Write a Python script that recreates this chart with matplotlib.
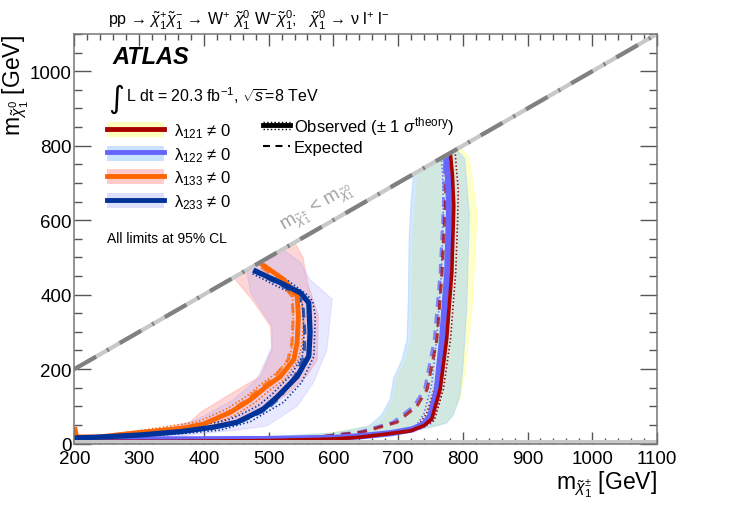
import numpy as np
import matplotlib
matplotlib.use("Agg")
import matplotlib.pyplot as plt
from matplotlib.lines import Line2D
from matplotlib.patches import Patch
from matplotlib.legend_handler import HandlerBase
from matplotlib.ticker import MultipleLocator

plt.rcParams['font.family'] = ['Liberation Sans', 'DejaVu Sans']
plt.rcParams['mathtext.fontset'] = 'custom'
plt.rcParams['mathtext.rm'] = 'Liberation Sans'
plt.rcParams['mathtext.it'] = 'Liberation Sans:italic'
plt.rcParams['mathtext.bf'] = 'Liberation Sans:bold'
plt.rcParams['lines.scale_dashes'] = False


""" DATA (read off the picture) """
# lambda_121 : observed, +-1 sigma theory, expected, expected band
l121_obs_x = [200, 350, 500, 600, 641, 680, 719, 740, 752, 765, 775, 783, 786, 784, 781]
l121_obs_y = [6, 6, 8, 12, 17, 25, 34, 48, 66, 146, 280, 460, 638, 720, 775]
l121_up_x = [200, 350, 500, 600, 660, 705, 738, 756, 770, 781, 789, 792, 793, 790, 788]
l121_up_y = [8, 9, 11, 15, 22, 30, 44, 62, 146, 280, 460, 600, 680, 740, 786]
l121_dn_x = [200, 350, 500, 600, 630, 670, 705, 730, 744, 758, 768, 776, 779, 778, 776]
l121_dn_y = [5, 5, 7, 10, 14, 20, 30, 46, 80, 160, 290, 460, 638, 720, 772]
l121_exp_x = [200, 400, 575, 646, 698, 729, 745, 760, 768, 773, 775]
l121_exp_y = [7, 9, 17, 31, 57, 100, 146, 280, 460, 638, 770]
l121_band_x = [200, 400, 472, 550, 600, 661, 672, 680, 692, 698, 712, 721, 722, 723, 727, 731,
               795, 810, 822, 818, 814, 804, 796, 780, 770, 750, 700, 600, 400, 200]
l121_band_y = [14, 15, 17, 22, 30, 48, 58, 77, 120, 175, 225, 280, 400, 546, 650, 731,
               795, 770, 615, 480, 360, 200, 120, 66, 53, 45, 30, 18, 6, 5]

# lambda_122
l122_obs_x = [200, 350, 500, 600, 645, 690, 722, 740, 750, 760, 768, 776, 779, 777, 774]
l122_obs_y = [11, 11, 12, 15, 20, 28, 38, 52, 75, 146, 280, 460, 638, 720, 768]
l122_up_x = [200, 350, 500, 600, 655, 700, 735, 752, 765, 774, 780, 785, 786, 784, 781]
l122_up_y = [9, 10, 12, 16, 22, 30, 40, 55, 120, 250, 400, 560, 660, 740, 778]
l122_dn_x = [200, 350, 500, 600, 630, 670, 705, 728, 740, 752, 760, 767, 770, 769, 767]
l122_dn_y = [6, 6, 8, 12, 16, 24, 32, 48, 80, 160, 290, 460, 638, 720, 764]
l122_exp_x = [200, 400, 570, 640, 692, 724, 741, 756, 765, 770, 772]
l122_exp_y = [7, 9, 17, 31, 57, 100, 146, 280, 460, 638, 768]
l122_band_x = [200, 400, 500, 600, 655, 675, 688, 693, 706, 714, 716, 717, 720, 724,
               790, 803, 810, 808, 806, 800, 795, 785, 775, 750, 700, 600, 400, 200]
l122_band_y = [15, 16, 19, 28, 47, 77, 120, 175, 225, 280, 400, 546, 650, 724,
               790, 765, 615, 480, 360, 200, 125, 76, 55, 43, 28, 15, 6, 5]

# lambda_133
l133_obs_x = [201, 203, 235, 302, 364, 399, 441, 472, 497, 518, 539, 544, 546, 544, 523, 490]
l133_obs_y = [38, 18, 17, 30, 40, 52, 84, 118, 154, 180, 226, 271, 342, 396, 441, 481]
l133_up_x = [201, 240, 305, 370, 410, 448, 478, 503, 525, 546, 552, 554, 550, 528, 495]
l133_up_y = [15, 15, 26, 36, 46, 76, 109, 145, 172, 226, 271, 342, 398, 437, 475]
l133_dn_x = [201, 230, 298, 352, 390, 434, 466, 491, 511, 532, 537, 538, 537, 518, 486]
l133_dn_y = [21, 19, 34, 48, 58, 92, 127, 163, 188, 226, 271, 342, 394, 444, 484]
l133_exp_x = [201, 240, 300, 337, 389, 430, 460, 488, 510, 530, 536, 538, 536, 515, 485]
l133_exp_y = [17, 19, 30, 38, 48, 76, 110, 150, 180, 226, 271, 342, 396, 441, 478]
l133_band_x = [200, 260, 328, 379, 395, 440, 487, 505, 503, 475, 446,
               540, 553, 560, 577, 575, 560, 530, 490, 440, 380, 300, 200]
l133_band_y = [22, 24, 36, 58, 84, 132, 180, 252, 315, 385, 446,
               540, 500, 432, 342, 225, 184, 134, 90, 58, 36, 18, 10]

# lambda_233
l233_obs_x = [201, 235, 302, 364, 415, 451, 472, 492, 513, 544, 562, 564, 562, 549, 518, 480]
l233_obs_y = [15, 17, 23, 32, 44, 57, 75, 93, 125, 180, 235, 298, 378, 405, 432, 463]
l233_up_x = [201, 240, 305, 370, 425, 472, 523, 551, 570, 572, 568, 559, 528, 492]
l233_up_y = [12, 14, 19, 27, 36, 59, 111, 164, 235, 342, 382, 400, 440, 471]
l233_dn_x = [201, 235, 300, 360, 405, 440, 462, 484, 505, 535, 552, 555, 552, 540, 510, 475]
l233_dn_y = [18, 21, 27, 37, 52, 65, 82, 102, 132, 185, 235, 298, 374, 400, 425, 456]
l233_exp_x = [201, 240, 305, 370, 420, 455, 478, 498, 518, 540, 555, 556, 553, 540, 512, 476]
l233_exp_y = [15, 17, 23, 32, 44, 57, 75, 93, 125, 180, 235, 298, 378, 405, 432, 463]
l233_band_x = [200, 330, 394, 446, 482, 505, 505, 472, 466,
               522, 549, 564, 598, 590, 569, 544, 497, 446, 350, 200]
l233_band_y = [20, 26, 68, 118, 172, 260, 315, 405, 466,
               522, 487, 440, 388, 252, 163, 100, 47, 35, 18, 10]

# kinematic boundary and low-mass band
diag_x = [200, 1100]
diag_y = [200, 1100]
lowmass_y = 10

models = [
    # label, obs, up, dn, exp, band, line colour, band colour, band alpha, line width
    ('λ$_{121}$ ≠ 0', (l121_obs_x, l121_obs_y), (l121_up_x, l121_up_y), (l121_dn_x, l121_dn_y),
     (l121_exp_x, l121_exp_y), (l121_band_x, l121_band_y), '#aa0000', '#ffff88', 0.45, 2.6),
    ('λ$_{122}$ ≠ 0', (l122_obs_x, l122_obs_y), (l122_up_x, l122_up_y), (l122_dn_x, l122_dn_y),
     (l122_exp_x, l122_exp_y), (l122_band_x, l122_band_y), '#6666ff', '#99ccff', 0.45, 4.5),
    ('λ$_{133}$ ≠ 0', (l133_obs_x, l133_obs_y), (l133_up_x, l133_up_y), (l133_dn_x, l133_dn_y),
     (l133_exp_x, l133_exp_y), (l133_band_x, l133_band_y), '#ff6600', '#ff9999', 0.40, 3.5),
    ('λ$_{233}$ ≠ 0', (l233_obs_x, l233_obs_y), (l233_up_x, l233_up_y), (l233_dn_x, l233_dn_y),
     (l233_exp_x, l233_exp_y), (l233_band_x, l233_band_y), '#003399', '#9999ff', 0.22, 3.8),
]


""" MAKING A PICTURE """
fig = plt.figure(figsize=(7.47, 5.06), dpi=100)
ax = fig.add_axes([0.0997, 0.1215, 0.7798, 0.8093])

for m in models:
    bx, by = m[5]
    ax.fill(bx, by, color=m[7], alpha=m[8], lw=0.8, zorder=1)

# draw order: 122 under 121, 133 under 233
for i in [1, 0, 2, 3]:
    m = models[i]
    col = m[6]
    ax.plot(*m[2], color=col, lw=1.2, ls=':', zorder=3)
    ax.plot(*m[3], color=col, lw=1.2, ls=':', zorder=3)
    ax.plot(*m[4], color=col, lw=2.2, ls=(0, (7, 5)), alpha=0.75, zorder=4)
    ax.plot(*m[1], color=col, lw=m[9], zorder=5, solid_joinstyle='round')

ax.axhspan(0, lowmass_y, color='#c8c8c8', lw=0, zorder=5.5)

# kinematic boundary
ax.plot(diag_x, diag_y, color='#c8c8c8', lw=3, zorder=6)
ax.plot(diag_x, diag_y, color='#808080', lw=3, zorder=6, ls=(0, (18, 9, 1.5, 9)))
ax.text(575, 633, r'm$_{\tilde{\chi}^{\pm}_{1}}$ < m$_{\tilde{\chi}^{0}_{1}}$', color='#a0a0a0',
        fontsize=13.5, rotation=45, transform_rotates_text=True, rotation_mode='anchor',
        ha='center', va='center', zorder=7)

ax.set_xlim(200, 1100)
ax.set_ylim(0, 1100)
ax.xaxis.set_major_locator(MultipleLocator(100))
ax.xaxis.set_minor_locator(MultipleLocator(20))
ax.yaxis.set_major_locator(MultipleLocator(200))
ax.yaxis.set_minor_locator(MultipleLocator(50))
ax.tick_params(which='both', direction='in', top=True, right=True, color='#555555', width=1,
               labelsize=13.5, pad=2)
ax.tick_params(axis='x', which='major', length=8.6, pad=5)
ax.tick_params(axis='x', which='minor', length=4.3)
ax.tick_params(axis='y', which='major', length=12)
ax.tick_params(axis='y', which='minor', length=5.8)
for lab in ax.get_yticklabels():
    lab.set_verticalalignment('center_baseline')
for sp in ax.spines.values():
    sp.set_color('#777777')
    sp.set_linewidth(1.1)
    sp.set_zorder(8)

ax.set_xlabel(r'm$_{\tilde{\chi}^{\pm}_{1}}$ [GeV]', loc='right', fontsize=16.5, labelpad=1)
ax.set_ylabel(r'm$_{\tilde{\chi}^{0}_{1}}$ [GeV]', loc='top', fontsize=16.5)
ax.yaxis.set_label_coords(-0.075, 1.0)

# texts
fig.text(0.1446, 0.960, r'pp → $\tilde{\chi}^{+}_{1}\tilde{\chi}^{-}_{1}$ → W$^{+}$ $\tilde{\chi}^{0}_{1}$ '
         r'W$^{-}\tilde{\chi}^{0}_{1}$;   $\tilde{\chi}^{0}_{1}$ → ν l$^{+}$ l$^{-}$',
         fontsize=11.5, va='center', ha='left')
ax.text(0.065, 0.946, 'ATLAS', transform=ax.transAxes, fontsize=17, fontweight='bold',
        fontstyle='italic', va='center', ha='left')
ax.text(0.058, 0.843, '∫', transform=ax.transAxes, fontsize=22, va='center', ha='left',
        family='DejaVu Sans')
ax.text(0.089, 0.853, r'L dt = 20.3 fb$^{-1}$, $\sqrt{s}$=8 TeV', transform=ax.transAxes,
        fontsize=11.5, va='center', ha='left')
ax.text(0.0566, 0.503, 'All limits at 95% CL', transform=ax.transAxes, fontsize=10,
        va='center', ha='left')

# legends
handles = [(Patch(facecolor=m[7], alpha=m[8] + 0.1, lw=0), Line2D([], [], color=m[6], lw=3.5))
           for m in models]
labels = [m[0] for m in models]
leg1 = ax.legend(handles, labels, loc='upper left', bbox_to_anchor=(0.0566, 0.787),
                 frameon=False, fontsize=12, handlelength=3.4, handleheight=1.0,
                 handletextpad=0.6, labelspacing=0.3, borderpad=0, borderaxespad=0)
ax.add_artist(leg1)


class HandlerObserved(HandlerBase):
    def create_artists(self, legend, orig_handle, xdescent, ydescent, width, height, fontsize, trans):
        y0 = height / 2 - ydescent
        out = []
        for dy, lw, ls in [(0, 3.5, '-'), (0.3 * height, 1, ':'), (-0.3 * height, 1, ':')]:
            l = Line2D([-xdescent, width - xdescent], [y0 + dy, y0 + dy], color='k', lw=lw, ls=ls)
            l.set_transform(trans)
            out.append(l)
        return out


obs_proxy = Line2D([], [], color='k', lw=3.5)
exp_proxy = Line2D([], [], color='k', lw=1.5, ls=(0, (5, 4)))
leg2 = ax.legend([obs_proxy, exp_proxy],
                 [r'Observed ($\pm$ 1 $\sigma^{\mathrm{theory}}$)', 'Expected'],
                 handler_map={obs_proxy: HandlerObserved()},
                 loc='upper left', bbox_to_anchor=(0.324, 0.805), frameon=False, fontsize=12,
                 handlelength=1.6, handletextpad=0.25, labelspacing=0.2, borderpad=0,
                 borderaxespad=0)

fig.savefig('out.png', dpi=100)
